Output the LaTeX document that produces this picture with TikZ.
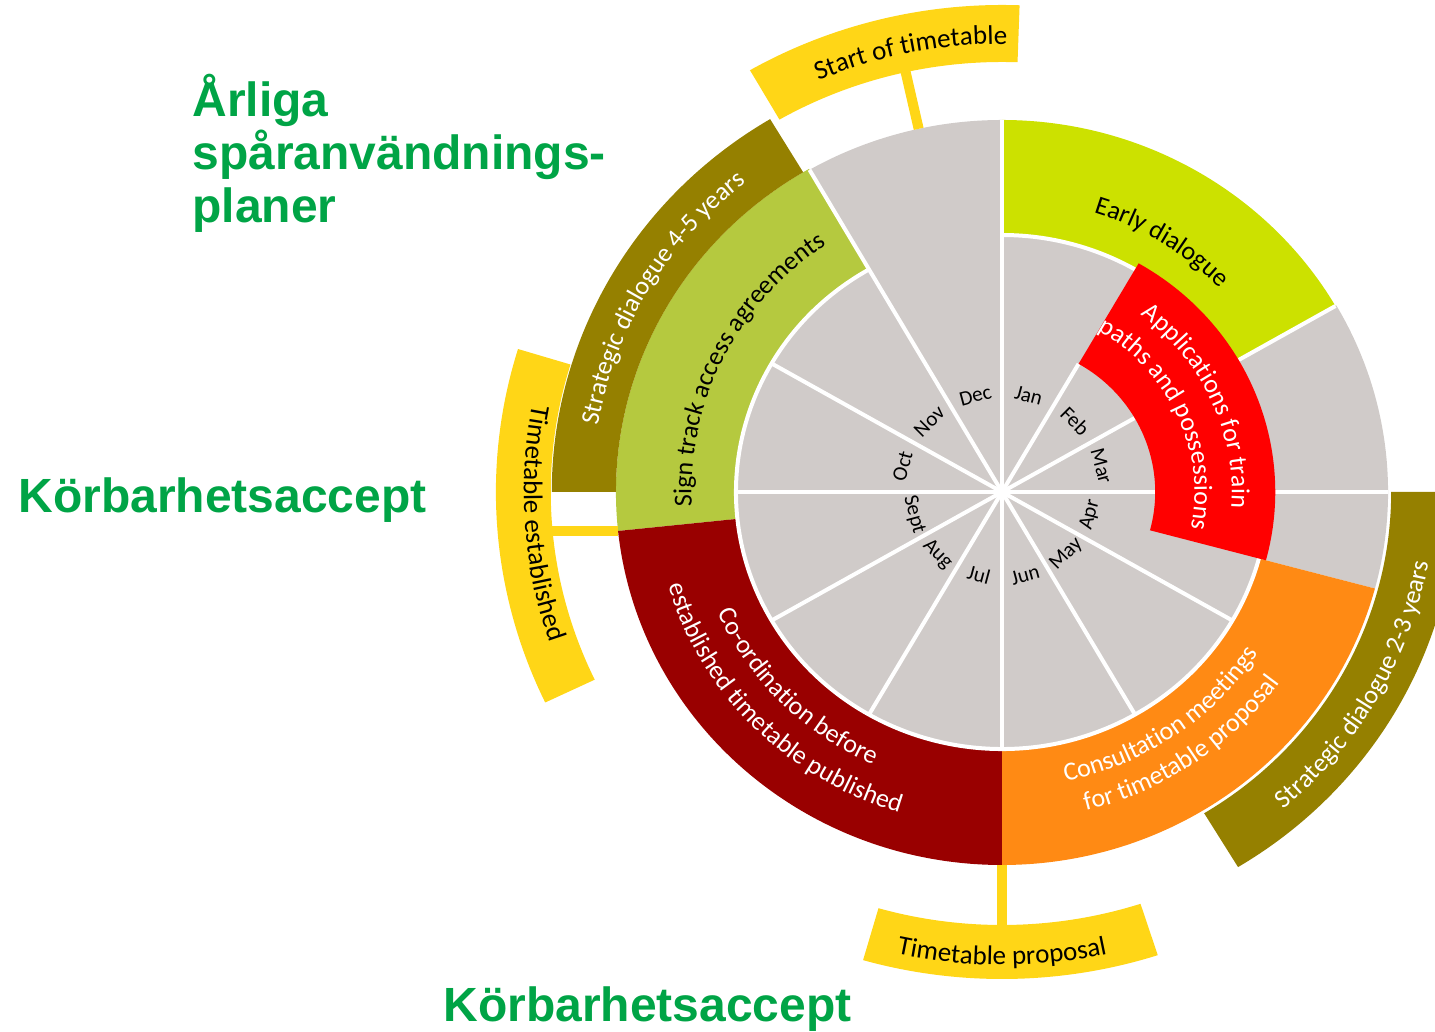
\documentclass[tikz,border=0pt]{standalone}
\usepackage{fontspec}
\setmainfont{Carlito}
\newfontfamily\headfont{Liberation Sans}
\usetikzlibrary{decorations.text, positioning}

\definecolor{wheelgray}{RGB}{208,203,201}
\definecolor{earlygreen}{RGB}{204,225,0}
\definecolor{signgreen}{RGB}{181,201,63}
\definecolor{olive}{RGB}{149,128,0}
\definecolor{appred}{RGB}{255,0,0}
\definecolor{coordred}{RGB}{153,0,0}
\definecolor{consorange}{RGB}{255,138,20}
\definecolor{milestone}{RGB}{255,214,23}
\definecolor{headgreen}{RGB}{0,164,70}

\newcommand{\ringfont}{\fontsize{13}{15}\selectfont}
\newcommand{\bannerfont}{\fontsize{13.5}{16}\selectfont}
\newcommand{\monthfont}{\fontsize{10.5}{12}\selectfont}

% annular segment: colour, from, to, inner radius, outer radius
\newcommand{\ringseg}[5]{%
  \fill[#1] (#2:#4) arc[start angle=#2, end angle=#3, radius=#4]
    -- (#3:#5) arc[start angle=#3, end angle=#2, radius=#5] -- cycle;}

% curved label: radius, from, to, format, text
\newcommand{\arclabel}[5]{%
  \path[decorate, decoration={text along path, text align=center,
    text={|#4|#5}}] (#2:#1) arc[start angle=#2, end angle=#3, radius=#1];}

\begin{document}
\begin{tikzpicture}
  [x=0.5pt, y=0.5pt,
   spoke/.style={draw=white, line width=2pt},
   stem/.style={draw=milestone, line width=5pt},
   heading/.style={font=\headfont\bfseries\fontsize{24}{28}\selectfont,
                   text=headgreen, inner sep=0pt},
   month/.style={font=\monthfont, inner sep=0pt}]
  \useasboundingbox (0,0) rectangle (1435,1032);

  % headings
  \node[heading, anchor=base west] (arliga)        at (192,915)                     {Årliga};
  \node[heading, anchor=base west] (sparanv)       at ([yshift=-26.5pt] arliga.base west)  {spåranvändnings-};
  \node[heading, anchor=base west] (planer)        at ([yshift=-26.5pt] sparanv.base west) {planer};
  \node[heading, anchor=base west] (accept left)   at (18,519)                      {Körbarhetsaccept};
  \node[heading, anchor=base west] (accept bottom) at (443,10)                      {Körbarhetsaccept};

  \begin{scope}[shift={(1002,540)}, xscale=1.035]
    % months and the ring round them
    \fill[wheelgray] (0,0) circle[radius=257];
    \fill[wheelgray] (0,0) -- (90:372) arc[start angle=90, end angle=120, radius=372] -- cycle;
    \ringseg{wheelgray}{-15}{30}{257}{373}
    \ringseg{earlygreen}{30}{90}{257}{372}
    \ringseg{signgreen}{120}{186}{257}{373}
    \ringseg{coordred}{186}{270}{257}{373}
    \ringseg{consorange}{270}{345}{257}{373}
    \ringseg{olive}{121}{180}{373}{435}
    \ringseg{olive}{-58.7}{0}{376}{439}

    \foreach \a/\r in {0/148, 30/148, 60/148, 90/372, 120/372, 150/257, 180/257,
                       210/257, 240/257, 270/257, 300/257, 330/257}
      \draw[spoke] (0,0) -- (\a:\r);
    \draw[spoke] (0:264) -- (0:373);
    \draw[spoke] (30:264) -- (30:372);
    \draw[spoke] (120:257) arc[start angle=120, end angle=450, radius=257];

    \ringseg{appred}{-15}{60}{148}{264}

    % milestones
    \coordinate (start in)  at (102.5:372);
    \coordinate (start out) at (102.5:432);
    \coordinate (est in)    at (186:373);
    \coordinate (est out)   at (186:438);
    \coordinate (prop in)   at (270:373);
    \coordinate (prop out)  at (270:435);
    \draw[stem] (start in) -- (start out);
    \draw[stem] (est in) -- (est in -| est out);
    \draw[stem] (prop in) -- (prop out);
    \ringseg{milestone}{88}{120}{430}{487}
    \ringseg{milestone}{163}{205.5}{436}{489}
    \ringseg{milestone}{-106}{-72}{433}{487}

    \foreach \m [count=\i, evaluate=\i as \a using 105-30*\i,
                 evaluate=\i as \rot using (sin(105-30*\i)>0 ? 15-30*\i : 195-30*\i)]
        in {Jan,Feb,Mar,Apr,May,Jun,Jul,Aug,Sept,Oct,Nov,Dec}
      \node[month, rotate=\rot, anchor=base] (m\i) at (\a:93) {\m};

    % labels along the rings
    \arclabel{293}{94}{22}{\ringfont}{Early dialogue}
    \arclabel{222}{84}{-36}{\ringfont\color{white}}{Applications for train}
    \arclabel{186}{94}{-46}{\ringfont\color{white}}{paths and possessions}
    \arclabel{300}{214}{94}{\ringfont}{Sign track access agreements}
    \arclabel{396}{210}{90}{\ringfont\color{white}}{Strategic dialogue 4-5 years}
    \arclabel{300}{164}{284}{\ringfont\color{white}}{Co-ordination before}
    \arclabel{336}{164}{284}{\ringfont\color{white}}{established timetable published}
    \arclabel{296}{-115}{5}{\ringfont\color{white}}{Consultation meetings}
    \arclabel{329}{-115}{5}{\ringfont\color{white}}{for timetable proposal}
    \arclabel{418}{-89}{31}{\ringfont\color{white}}{Strategic dialogue 2-3 years}
    \arclabel{448}{141.5}{61.5}{\bannerfont}{Start of timetable}
    \arclabel{462}{144}{224}{\bannerfont}{Timetable established}
    \arclabel{473}{-130}{-50}{\bannerfont}{Timetable proposal}
  \end{scope}
\end{tikzpicture}
\end{document}
